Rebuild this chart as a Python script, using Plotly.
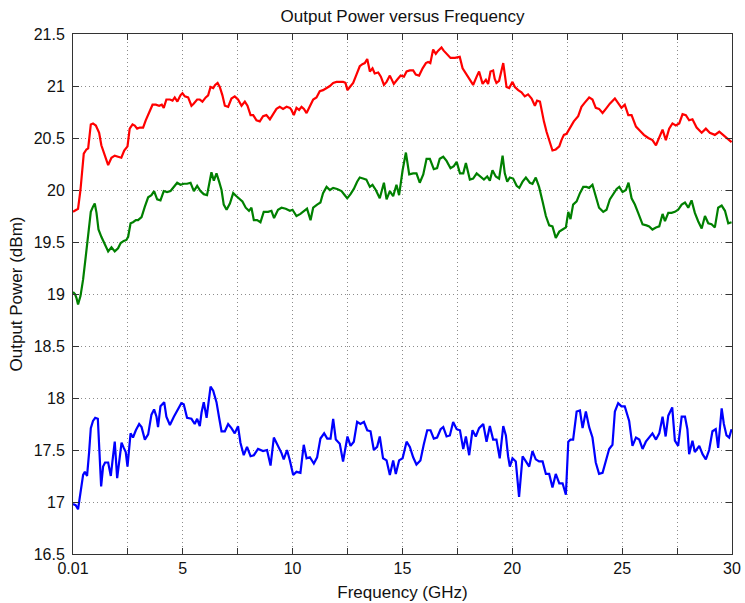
import plotly.graph_objects as go

# Measured output power for three channels, frequency in GHz, power in dBm
red_freq = [0.01, 0.24, 0.35, 0.5, 0.62, 0.7, 0.82, 0.92, 1.05, 1.2, 1.3, 1.46, 1.61, 1.76, 1.91, 2.06, 2.21, 2.34, 2.49, 2.59,
            2.72, 2.82, 2.93, 3.05, 3.2, 3.32, 3.47, 3.63, 3.78, 3.93, 4.05, 4.14, 4.26, 4.42, 4.54, 4.64, 4.76, 4.9, 4.99, 5.1,
            5.25, 5.4, 5.5, 5.66, 5.78, 5.9, 6.05, 6.16, 6.27, 6.39, 6.48, 6.59, 6.69, 6.81, 6.92, 7.07, 7.22, 7.37, 7.52, 7.68,
            7.83, 7.95, 8.09, 8.21, 8.36, 8.51, 8.66, 8.81, 8.97, 9.12, 9.27, 9.42, 9.57, 9.73, 9.88, 9.95, 10.06, 10.18, 10.3, 10.41,
            10.52, 10.64, 10.79, 10.94, 11.09, 11.24, 11.39, 11.55, 11.7, 11.85, 12.0, 12.15, 12.3, 12.41, 12.5, 12.61, 12.76, 12.91, 13.06, 13.18,
            13.29, 13.4, 13.52, 13.64, 13.74, 13.9, 14.02, 14.16, 14.28, 14.43, 14.61, 14.76, 14.92, 15.07, 15.19, 15.34, 15.49, 15.61, 15.76, 15.92,
            16.07, 16.17, 16.27, 16.4, 16.52, 16.63, 16.78, 16.88, 17.0, 17.19, 17.39, 17.61, 17.74, 17.92, 18.07, 18.22, 18.38, 18.49, 18.65, 18.8,
            18.9, 19.01, 19.13, 19.2, 19.28, 19.4, 19.59, 19.66, 19.74, 19.86, 20.01, 20.12, 20.27, 20.42, 20.57, 20.72, 20.88, 21.03, 21.13, 21.26,
            21.33, 21.44, 21.56, 21.68, 21.83, 21.98, 22.14, 22.24, 22.35, 22.47, 22.62, 22.8, 23.0, 23.15, 23.3, 23.5, 23.65, 23.8, 23.95, 24.11,
            24.26, 24.44, 24.67, 24.82, 24.97, 25.12, 25.28, 25.43, 25.63, 25.81, 25.99, 26.19, 26.38, 26.54, 26.69, 26.84, 26.99, 27.14, 27.29, 27.44,
            27.6, 27.75, 27.9, 28.05, 28.2, 28.39, 28.62, 28.81, 28.99, 29.22, 29.42, 29.6, 29.75, 29.98]
red_power = [19.79, 19.82, 20.0, 20.35, 20.39, 20.4, 20.63, 20.64, 20.62, 20.55, 20.43, 20.32, 20.24, 20.31, 20.33, 20.32, 20.31, 20.38, 20.42, 20.59,
             20.63, 20.62, 20.59, 20.6, 20.6, 20.67, 20.75, 20.82, 20.82, 20.81, 20.82, 20.79, 20.87, 20.87, 20.86, 20.89, 20.85, 20.91, 20.93, 20.9,
             20.89, 20.81, 20.83, 20.87, 20.87, 20.85, 20.89, 20.91, 20.99, 20.98, 21.01, 21.03, 20.99, 20.91, 20.81, 20.8, 20.88, 20.9, 20.87, 20.81,
             20.85, 20.81, 20.72, 20.72, 20.67, 20.66, 20.71, 20.72, 20.68, 20.73, 20.78, 20.8, 20.78, 20.8, 20.79, 20.77, 20.72, 20.79, 20.77, 20.8,
             20.78, 20.74, 20.8, 20.87, 20.89, 20.95, 20.96, 20.98, 21.0, 21.03, 21.04, 21.04, 21.04, 21.03, 20.96, 20.99, 21.03, 21.11, 21.19, 21.21,
             21.22, 21.26, 21.14, 21.17, 21.12, 21.13, 21.09, 21.01, 21.04, 21.1, 21.02, 21.06, 21.1, 21.09, 21.14, 21.15, 21.15, 21.11, 21.1, 21.17,
             21.22, 21.23, 21.22, 21.35, 21.31, 21.34, 21.37, 21.34, 21.31, 21.27, 21.27, 21.28, 21.17, 21.11, 21.06, 21.01, 21.09, 21.14, 21.02, 21.06,
             21.02, 21.14, 21.15, 21.07, 21.03, 21.05, 21.22, 21.13, 20.99, 20.98, 21.04, 20.99, 20.96, 20.94, 20.9, 20.92, 20.88, 20.81, 20.86, 20.85,
             20.77, 20.66, 20.56, 20.48, 20.38, 20.39, 20.42, 20.48, 20.53, 20.54, 20.59, 20.66, 20.71, 20.8, 20.84, 20.89, 20.87, 20.79, 20.78, 20.74,
             20.78, 20.83, 20.88, 20.84, 20.79, 20.82, 20.72, 20.72, 20.61, 20.57, 20.53, 20.5, 20.48, 20.43, 20.5, 20.58, 20.48, 20.59, 20.64, 20.62,
             20.64, 20.73, 20.72, 20.67, 20.68, 20.6, 20.55, 20.59, 20.55, 20.53, 20.56, 20.53, 20.5, 20.46]

green_freq = [0.01, 0.1, 0.17, 0.24, 0.35, 0.47, 0.59, 0.7, 0.82, 0.92, 1.0, 1.08, 1.17, 1.3, 1.46, 1.61, 1.76, 1.91, 2.06, 2.18,
              2.32, 2.44, 2.52, 2.63, 2.74, 2.87, 2.97, 3.13, 3.28, 3.43, 3.58, 3.7, 3.84, 3.99, 4.14, 4.29, 4.45, 4.6, 4.75, 4.9,
              5.05, 5.2, 5.36, 5.51, 5.66, 5.81, 5.96, 6.11, 6.24, 6.31, 6.42, 6.54, 6.66, 6.77, 6.87, 7.0, 7.15, 7.3, 7.45, 7.6,
              7.72, 7.87, 8.02, 8.13, 8.24, 8.39, 8.54, 8.69, 8.89, 9.04, 9.16, 9.34, 9.5, 9.69, 9.88, 10.0, 10.18, 10.36, 10.56, 10.66,
              10.82, 10.94, 11.12, 11.27, 11.39, 11.55, 11.7, 11.85, 12.03, 12.23, 12.38, 12.49, 12.64, 12.79, 12.94, 13.06, 13.21, 13.36, 13.52, 13.64,
              13.79, 13.97, 14.16, 14.28, 14.43, 14.58, 14.73, 14.85, 15.01, 15.16, 15.31, 15.49, 15.64, 15.79, 15.95, 16.1, 16.25, 16.43, 16.58, 16.7,
              16.86, 17.01, 17.19, 17.34, 17.47, 17.62, 17.77, 17.89, 18.07, 18.22, 18.38, 18.53, 18.71, 18.86, 18.98, 19.1, 19.25, 19.4, 19.56, 19.66,
              19.77, 19.89, 20.04, 20.2, 20.32, 20.47, 20.62, 20.8, 20.92, 21.07, 21.22, 21.38, 21.53, 21.68, 21.83, 21.98, 22.14, 22.29, 22.44, 22.55,
              22.65, 22.77, 22.93, 23.08, 23.23, 23.38, 23.5, 23.65, 23.8, 23.95, 24.14, 24.29, 24.44, 24.59, 24.75, 24.87, 25.02, 25.17, 25.29, 25.43,
              25.58, 25.73, 25.93, 26.11, 26.23, 26.38, 26.54, 26.69, 26.84, 26.95, 27.1, 27.25, 27.4, 27.55, 27.71, 27.86, 28.01, 28.16, 28.31, 28.46,
              28.62, 28.77, 28.92, 29.07, 29.22, 29.37, 29.53, 29.68, 29.83, 29.98]
green_power = [19.02, 19.0, 18.96, 18.9, 18.98, 19.14, 19.36, 19.59, 19.79, 19.84, 19.87, 19.78, 19.62, 19.55, 19.48, 19.41, 19.45, 19.41, 19.44, 19.49,
               19.51, 19.52, 19.55, 19.68, 19.69, 19.71, 19.71, 19.74, 19.84, 19.93, 19.95, 19.99, 19.91, 19.9, 19.99, 19.98, 19.99, 20.03, 20.07, 20.05,
               20.06, 20.06, 20.07, 19.99, 20.04, 19.99, 19.96, 19.95, 20.08, 20.17, 20.09, 20.16, 20.08, 20.0, 19.86, 19.81, 19.87, 19.97, 19.94, 19.91,
               19.89, 19.83, 19.8, 19.83, 19.71, 19.71, 19.69, 19.79, 19.79, 19.8, 19.73, 19.81, 19.83, 19.82, 19.8, 19.81, 19.75, 19.77, 19.8, 19.82,
               19.71, 19.83, 19.86, 19.88, 19.97, 20.03, 20.0, 20.02, 20.01, 19.99, 19.95, 19.92, 19.96, 20.01, 20.08, 20.12, 20.11, 20.1, 20.03, 20.05,
               20.0, 19.92, 20.07, 19.91, 19.99, 19.94, 20.05, 19.95, 20.19, 20.36, 20.15, 20.16, 20.16, 20.07, 20.15, 20.3, 20.3, 20.2, 20.21, 20.3,
               20.32, 20.28, 20.21, 20.23, 20.27, 20.16, 20.16, 20.26, 20.1, 20.11, 20.16, 20.13, 20.1, 20.13, 20.09, 20.19, 20.13, 20.11, 20.33, 20.16,
               20.08, 20.12, 20.11, 20.04, 20.02, 20.08, 20.12, 20.07, 20.06, 20.12, 20.03, 19.89, 19.75, 19.66, 19.65, 19.54, 19.6, 19.62, 19.64, 19.79,
               19.72, 19.86, 19.89, 19.97, 20.03, 20.03, 20.02, 20.05, 19.94, 19.83, 19.79, 19.81, 19.91, 19.96, 20.01, 20.03, 19.98, 20.0, 20.07, 19.92,
               19.86, 19.78, 19.67, 19.66, 19.65, 19.62, 19.64, 19.65, 19.77, 19.7, 19.78, 19.78, 19.79, 19.81, 19.86, 19.88, 19.83, 19.9, 19.78, 19.7,
               19.63, 19.75, 19.68, 19.67, 19.64, 19.83, 19.85, 19.8, 19.68, 19.69]

blue_freq = [0.01, 0.13, 0.24, 0.35, 0.47, 0.55, 0.65, 0.74, 0.82, 0.92, 1.02, 1.14, 1.2, 1.29, 1.38, 1.47, 1.61, 1.73, 1.81, 1.91,
             2.02, 2.11, 2.22, 2.32, 2.41, 2.49, 2.56, 2.63, 2.74, 2.87, 3.02, 3.13, 3.28, 3.43, 3.58, 3.7, 3.81, 3.88, 3.99, 4.16,
             4.26, 4.42, 4.6, 4.79, 4.94, 5.05, 5.2, 5.4, 5.55, 5.66, 5.78, 5.86, 5.96, 6.09, 6.16, 6.27, 6.39, 6.54, 6.66, 6.77,
             6.92, 7.07, 7.22, 7.37, 7.52, 7.63, 7.78, 7.93, 8.09, 8.24, 8.43, 8.66, 8.84, 9.0, 9.15, 9.34, 9.5, 9.6, 9.75, 9.88,
             10.03, 10.18, 10.36, 10.51, 10.64, 10.79, 10.97, 11.12, 11.27, 11.44, 11.58, 11.73, 11.85, 11.97, 12.15, 12.3, 12.43, 12.5, 12.64, 12.79,
             12.94, 13.09, 13.25, 13.4, 13.55, 13.7, 13.85, 13.97, 14.12, 14.28, 14.43, 14.58, 14.7, 14.85, 15.01, 15.19, 15.34, 15.49, 15.64, 15.82,
             15.97, 16.13, 16.28, 16.43, 16.58, 16.74, 16.86, 17.01, 17.16, 17.31, 17.47, 17.62, 17.77, 17.89, 18.04, 18.19, 18.34, 18.49, 18.68, 18.83,
             18.98, 19.13, 19.28, 19.43, 19.59, 19.71, 19.81, 19.89, 20.01, 20.16, 20.31, 20.47, 20.62, 20.77, 20.92, 21.07, 21.22, 21.38, 21.53, 21.68,
             21.83, 21.98, 22.14, 22.29, 22.44, 22.55, 22.65, 22.77, 22.93, 23.08, 23.2, 23.35, 23.5, 23.65, 23.8, 23.95, 24.11, 24.26, 24.41, 24.56,
             24.67, 24.82, 24.97, 25.12, 25.32, 25.47, 25.63, 25.78, 25.93, 26.08, 26.23, 26.38, 26.54, 26.69, 26.84, 26.98, 27.1, 27.28, 27.4, 27.55,
             27.71, 27.86, 27.97, 28.05, 28.2, 28.31, 28.51, 28.66, 28.81, 28.96, 29.11, 29.26, 29.37, 29.53, 29.63, 29.75, 29.87, 29.98]
blue_power = [16.98, 16.97, 16.93, 17.09, 17.26, 17.29, 17.25, 17.47, 17.71, 17.78, 17.81, 17.8, 17.54, 17.15, 17.34, 17.38, 17.38, 17.25, 17.4, 17.58,
              17.23, 17.4, 17.57, 17.52, 17.48, 17.34, 17.51, 17.66, 17.62, 17.69, 17.75, 17.72, 17.6, 17.65, 17.84, 17.89, 17.82, 17.72, 17.92, 17.96,
              17.82, 17.74, 17.82, 17.9, 17.95, 17.94, 17.81, 17.8, 17.75, 17.8, 17.73, 17.86, 17.96, 17.81, 17.95, 18.11, 18.07, 17.96, 17.81, 17.68,
              17.68, 17.75, 17.71, 17.66, 17.73, 17.57, 17.45, 17.53, 17.44, 17.45, 17.51, 17.49, 17.5, 17.35, 17.62, 17.54, 17.47, 17.41, 17.5, 17.4,
              17.26, 17.29, 17.28, 17.55, 17.42, 17.43, 17.37, 17.43, 17.61, 17.66, 17.61, 17.61, 17.8, 17.6, 17.56, 17.39, 17.55, 17.63, 17.54, 17.58,
              17.77, 17.75, 17.77, 17.69, 17.68, 17.5, 17.53, 17.63, 17.42, 17.4, 17.26, 17.4, 17.27, 17.4, 17.42, 17.58, 17.53, 17.43, 17.36, 17.4,
              17.55, 17.69, 17.69, 17.61, 17.62, 17.7, 17.72, 17.63, 17.64, 17.77, 17.7, 17.69, 17.51, 17.63, 17.45, 17.69, 17.63, 17.71, 17.75, 17.58,
              17.73, 17.6, 17.6, 17.42, 17.73, 17.64, 17.44, 17.34, 17.42, 17.39, 17.05, 17.44, 17.39, 17.34, 17.49, 17.41, 17.39, 17.39, 17.27, 17.27,
              17.14, 17.27, 17.18, 17.18, 17.07, 17.58, 17.6, 17.6, 17.87, 17.88, 17.71, 17.87, 17.72, 17.62, 17.38, 17.27, 17.28, 17.39, 17.51, 17.55,
              17.87, 17.95, 17.92, 17.92, 17.78, 17.54, 17.62, 17.6, 17.51, 17.58, 17.62, 17.66, 17.6, 17.66, 17.82, 17.63, 17.83, 17.91, 17.59, 17.54,
              17.82, 17.82, 17.7, 17.46, 17.59, 17.48, 17.54, 17.46, 17.41, 17.5, 17.68, 17.7, 17.52, 17.9, 17.75, 17.64, 17.62, 17.7]

x_tick_vals = [0.01, 2.5, 5, 7.5, 10, 12.5, 15, 17.5, 20, 22.5, 25, 27.5, 30]
x_tick_text = ["0.01", "", "5", "", "10", "", "15", "", "20", "", "25", "", "30"]
y_tick_vals = [16.5, 17, 17.5, 18, 18.5, 19, 19.5, 20, 20.5, 21, 21.5]
y_tick_text = ["16.5", "17", "17.5", "18", "18.5", "19", "19.5", "20", "20.5", "21", "21.5"]

fig = go.Figure()
for freq, power, color in [(red_freq, red_power, "#FF0000"),
                           (green_freq, green_power, "#008000"),
                           (blue_freq, blue_power, "#0000FF")]:
    fig.add_trace(go.Scatter(x=freq, y=power, mode="lines",
                             line=dict(color=color, width=2.2), hoverinfo="skip"))

axis_style = dict(
    showline=True, linecolor="#333333", linewidth=1, mirror="ticks",
    ticks="inside", ticklen=6, tickcolor="#333333", tickwidth=1,
    showgrid=True, gridcolor="#8c8c8c", griddash="1px,3px", gridwidth=1,
    zeroline=False, automargin=False, tickfont=dict(size=16, color="#111111"),
)

fig.update_layout(
    width=745, height=603,
    margin=dict(l=73, r=13, t=34, b=49, autoexpand=False),
    paper_bgcolor="white", plot_bgcolor="white",
    showlegend=False,
    font=dict(family="Liberation Sans, Arial, sans-serif", size=16, color="#111111"),
    title=dict(text="Output Power versus Frequency", x=0.5, xref="paper", xanchor="center",
               y=1 - 16 / 603, yref="container", yanchor="middle",
               font=dict(size=17, color="#111111")),
    xaxis=dict(range=[0.01, 30], tickmode="array", tickvals=x_tick_vals, ticktext=x_tick_text,
               title=dict(text="Frequency (GHz)", standoff=9, font=dict(size=17)), **axis_style),
    yaxis=dict(range=[16.5, 21.5], tickmode="array", tickvals=y_tick_vals, ticktext=y_tick_text,
               ticklabelstandoff=4,
               title=dict(text="Output Power (dBm)", standoff=6, font=dict(size=17)), **axis_style),
)

fig.write_html("out.html")
